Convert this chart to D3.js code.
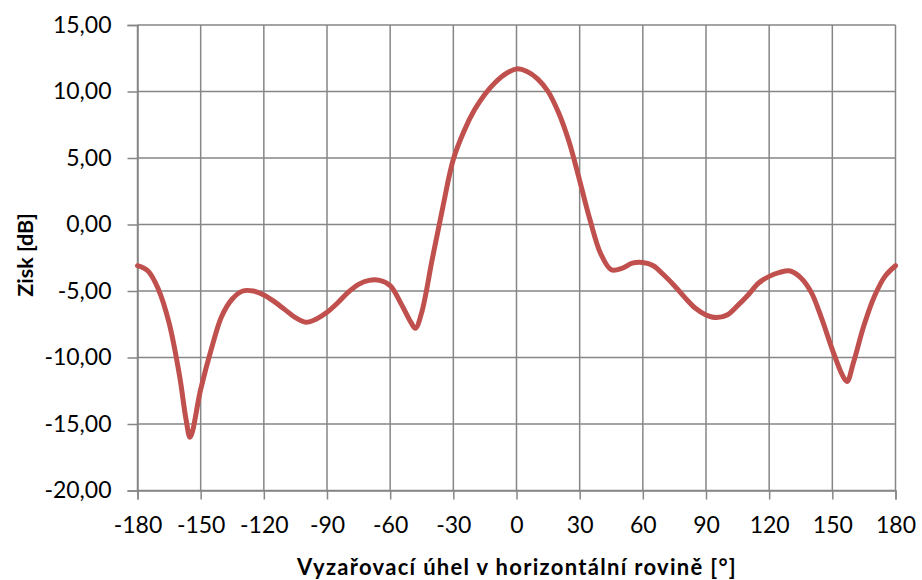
<!DOCTYPE html>
<html>
<head>
<meta charset="utf-8">
<script src="https://cdn.jsdelivr.net/npm/d3@7/dist/d3.min.js"></script>
<style>
  html, body { margin: 0; padding: 0; background: #fff; }
  svg { display: block; }
  text { font-family: Lato, "Open Sans", sans-serif; fill: #000; }
</style>
</head>
<body>
<svg id="chart" width="922" height="580"></svg>
<script>
// Horizontal radiation pattern: angle [°] and gain [dB]
const angles = [-180,-175,-170,-165,-160,-157,-155,-150,-145,-140,-135,-130,-125,-120,-115,-110,-105,-100,-95,-90,-85,-80,-75,-70,-65,-60,-55,-50,-48,-45,-40,-35,-30,-25,-20,-15,-10,-5,0,5,10,15,20,25,30,35,40,45,50,55,60,65,70,75,80,85,90,95,100,105,110,115,120,125,130,135,140,145,150,155,157,160,165,170,175,180];
const gains  = [-3.1,-3.5,-4.9,-7.4,-11.4,-14.6,-16.0,-12.4,-9.4,-6.9,-5.6,-5.0,-5.0,-5.3,-5.8,-6.4,-7.0,-7.35,-7.1,-6.6,-5.9,-5.1,-4.5,-4.2,-4.2,-4.6,-5.9,-7.4,-7.8,-6.6,-2.6,1.3,4.9,7.0,8.6,9.8,10.7,11.35,11.7,11.5,10.95,10.0,8.4,6.2,3.3,0.3,-2.2,-3.4,-3.3,-2.9,-2.85,-3.1,-3.8,-4.6,-5.5,-6.3,-6.8,-7.0,-6.8,-6.1,-5.3,-4.4,-3.9,-3.6,-3.5,-4.0,-5.1,-7.1,-9.4,-11.4,-11.8,-10.4,-7.6,-5.4,-3.9,-3.1];

const xTicks = [-180,-150,-120,-90,-60,-30,0,30,60,90,120,150,180];
const yTicks = [-20,-15,-10,-5,0,5,10,15];

const xTitle = "Vyzařovací úhel v horizontální rovině [°]";
const yTitle = "Zisk [dB]";

const svg = d3.select("#chart");
const plotLeft = 137.5, plotRight = 895.5, plotTop = 25, plotBottom = 490.5;

const x = d3.scaleLinear().domain([-180, 180]).range([plotLeft, plotRight]);
const y = d3.scaleLinear().domain([-20, 15]).range([plotBottom, plotTop]);

const gridColor = "#868686";
const fmt = v => d3.format(".2f")(v).replace(".", ",").replace("−", "-");

// grid lines
svg.append("g").selectAll("line").data(xTicks).join("line")
  .attr("x1", d => x(d)).attr("x2", d => x(d))
  .attr("y1", plotTop).attr("y2", plotBottom)
  .attr("stroke", gridColor).attr("stroke-width", 1.5);
svg.append("g").selectAll("line").data(yTicks).join("line")
  .attr("x1", plotLeft).attr("x2", plotRight)
  .attr("y1", d => y(d)).attr("y2", d => y(d))
  .attr("stroke", gridColor).attr("stroke-width", 1.5);

// axes
const yAxis = svg.append("g").attr("transform", `translate(${plotLeft},0)`)
  .call(d3.axisLeft(y).tickValues(yTicks).tickSize(10).tickPadding(16).tickFormat(fmt));
const xAxis = svg.append("g").attr("transform", `translate(0,${plotBottom})`)
  .call(d3.axisBottom(x).tickValues(xTicks).tickSize(9).tickPadding(17).tickFormat(d => String(d)));

[yAxis, xAxis].forEach(g => {
  g.select(".domain").attr("stroke", gridColor).attr("stroke-width", 1.5);
  g.selectAll(".tick line").attr("stroke", gridColor).attr("stroke-width", 1.5);
  g.selectAll(".tick text").style("font-family", "Lato, sans-serif").style("font-size", "23px").attr("fill", "#000");
});

// pattern curve
const line = d3.line()
  .x((d, i) => x(angles[i]))
  .y(d => y(d))
  .curve(d3.curveCatmullRom.alpha(0.5));

svg.append("path")
  .datum(gains)
  .attr("d", line)
  .attr("fill", "none")
  .attr("stroke", "#C0504D")
  .attr("stroke-width", 5)
  .attr("stroke-linejoin", "round")
  .attr("stroke-linecap", "round");

// axis titles
svg.append("text")
  .attr("x", 517).attr("y", 575)
  .attr("text-anchor", "middle")
  .style("font-size", "22px").style("font-weight", "bold")
  .style("letter-spacing", "1.3px")
  .text(xTitle);

svg.append("text")
  .attr("transform", `translate(33,255) rotate(-90)`)
  .attr("text-anchor", "middle")
  .style("font-size", "21.5px").style("font-weight", "bold")
  .text(yTitle);
</script>
</body>
</html>
